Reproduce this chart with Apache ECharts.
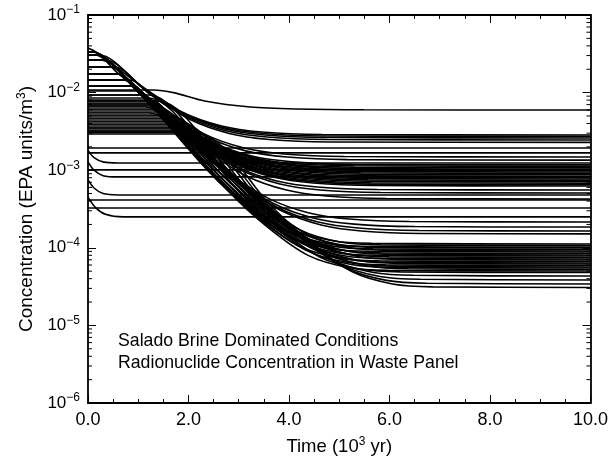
<!DOCTYPE html>
<html>
<head>
<meta charset="utf-8">
<script src="https://cdn.jsdelivr.net/npm/echarts@6/dist/echarts.min.js"></script>
<style>
html, body { margin: 0; padding: 0; background: #fff; }
#chart { width: 611px; height: 469px; }
</style>
</head>
<body>
<div id="chart"></div>
<script>
// time in 10^3 yr, concentration in EPA units/m3

// curves that bend off early and level out in the upper band
var upperCurves = [
    [[0,0.0108],[1.3,0.0108],[1.7,0.0100],[2.32,7.79e-3],[3.23,6.52e-3],[4.14,6.15e-3],[5.5,6.0e-3],[10,5.97e-3]],
    [[0,0.0376],[0.16,0.0333],[1.06,0.0122],[1.86,5.68e-3],[2.66,3.71e-3],[3.46,3.10e-3],[4.66,2.88e-3],[10,2.84e-3]],
    [[0,0.0305],[0.23,0.0305],[1.09,0.0116],[1.88,5.44e-3],[2.69,3.55e-3],[3.49,2.97e-3],[4.68,2.76e-3],[10,2.72e-3]],
    [[0,0.0263],[0.35,0.0263],[1.12,0.0111],[1.92,5.2e-3],[2.72,3.39e-3],[3.52,2.84e-3],[4.72,2.64e-3],[10,2.6e-3]],
    [[0,0.0214],[0.525,0.0214],[1.16,0.0105],[1.96,4.9e-3],[2.76,3.2e-3],[3.56,2.68e-3],[4.76,2.49e-3],[10,2.45e-3]],
    [[0,0.0145],[0.86,0.0145],[1.21,9.76e-3],[2.01,4.56e-3],[2.81,2.98e-3],[3.61,2.49e-3],[4.81,2.31e-3],[10,2.28e-3]],
    [[0,7.79e-3],[1.32,7.79e-3],[1.50,6.33e-3],[2.30,2.96e-3],[3.11,1.93e-3],[3.90,1.62e-3],[5.10,1.50e-3],[10,1.48e-3]],
    [[0,6.92e-3],[1.40,6.92e-3],[1.56,5.78e-3],[2.36,2.7e-3],[3.16,1.76e-3],[3.96,1.48e-3],[5.16,1.37e-3],[10,1.35e-3]],
    [[0,0.0263],[0.31,0.0263],[0.84,0.0137],[1.66,4.99e-3],[2.46,2.33e-3],[3.26,1.52e-3],[4.06,1.28e-3],[5.26,1.18e-3],[10,1.17e-3]],
    [[0,8.03e-3],[1.26,8.03e-3],[1.68,4.79e-3],[2.49,2.24e-3],[3.28,1.46e-3],[4.09,1.22e-3],[5.29,1.14e-3],[10,1.12e-3]],
    [[0,0.0214],[0.47,0.0214],[0.90,0.0126],[1.72,4.6e-3],[2.51,2.15e-3],[3.32,1.40e-3],[4.11,1.17e-3],[5.31,1.09e-3],[10,1.07e-3]],
    [[0,7.35e-3],[1.32,7.35e-3],[1.74,4.41e-3],[2.55,2.06e-3],[3.34,1.34e-3],[4.15,1.13e-3],[5.35,1.05e-3],[10,1.03e-3]],
    [[0,0.0174],[0.63,0.0174],[0.97,0.0116],[1.77,4.23e-3],[2.57,1.98e-3],[3.37,1.29e-3],[4.17,1.08e-3],[5.37,1.0e-3],[10,9.88e-4]],
    [[0,6.72e-3],[1.38,6.72e-3],[1.80,4.06e-3],[2.60,1.90e-3],[3.40,1.24e-3],[4.20,1.04e-3],[5.40,9.62e-4],[10,9.48e-4]],
    [[0,0.0145],[0.78,0.0145],[1.03,0.0107],[1.83,3.89e-3],[2.62,1.82e-3],[3.43,1.19e-3],[4.23,9.95e-4],[5.42,9.24e-4],[10,9.1e-4]],
    [[0,6.15e-3],[1.44,6.15e-3],[1.85,3.74e-3],[2.66,1.75e-3],[3.45,1.14e-3],[4.26,9.54e-4],[5.46,8.86e-4],[10,8.73e-4]],
    [[0,0.0122],[0.92,0.0122],[1.08,9.83e-3],[1.88,3.58e-3],[2.68,1.67e-3],[3.49,1.09e-3],[4.28,9.15e-4],[5.48,8.5e-4],[10,8.37e-4]],
    [[0,5.62e-3],[1.50,5.62e-3],[1.91,3.44e-3],[2.71,1.61e-3],[3.51,1.05e-3],[4.32,8.78e-4],[5.51,8.15e-4],[10,8.03e-4]],
    [[0,0.0122],[0.91,0.0122],[1.14,9.04e-3],[1.94,3.30e-3],[2.74,1.54e-3],[3.54,1.0e-3],[4.34,8.42e-4],[5.54,7.82e-4],[10,7.7e-4]],
    [[0,5.14e-3],[1.57,5.14e-3],[1.96,3.16e-3],[2.77,1.48e-3],[3.56,9.64e-4],[4.37,8.08e-4],[5.57,7.5e-4],[10,7.39e-4]],
    [[0,4.71e-3],[1.63,4.71e-3],[2.00,3.03e-3],[2.79,1.42e-3],[3.60,9.25e-4],[4.39,7.75e-4],[5.59,7.2e-4],[10,7.09e-4]],
    [[0,4.31e-3],[1.69,4.31e-3],[2.02,2.91e-3],[2.83,1.36e-3],[3.62,8.87e-4],[4.43,7.43e-4],[5.63,6.9e-4],[10,6.8e-4]],
    [[0,3.94e-3],[1.76,3.94e-3],[2.05,2.79e-3],[2.85,1.30e-3],[3.65,8.51e-4],[4.45,7.13e-4],[5.65,6.62e-4],[10,6.52e-4]],
    [[0,3.6e-3],[1.83,3.6e-3],[2.08,2.68e-3],[2.88,1.25e-3],[3.68,8.16e-4],[4.48,6.83e-4],[5.68,6.34e-4],[10,6.25e-4]],
    [[0,3.4e-3],[1.86,3.4e-3],[2.16,2.38e-3],[2.96,1.11e-3],[3.76,7.26e-4],[4.56,6.08e-4],[5.76,5.64e-4],[10,5.56e-4]],
    [[0,0.0305],[0.16,0.0305],[0.57,0.0184],[1,0.0107],[1.42,5.96e-3],[2.22,2.17e-3],[3.02,1.02e-3],[3.82,6.63e-4],[4.62,5.55e-4],[5.82,5.16e-4],[10,5.08e-4]],
    [[0,3.2e-3],[1.87,3.2e-3],[2.34,1.82e-3],[3.14,8.5e-4],[3.95,5.55e-4],[4.74,4.65e-4],[5.94,4.31e-4],[10,4.25e-4]],
    [[0,0.0263],[0.27,0.0263],[1,0.0102],[1.20,7.78e-3],[2.00,2.52e-3],[2.80,9.2e-4],[3.60,4.3e-4],[4.40,2.81e-4],[5.20,2.35e-4],[6.40,2.18e-4],[10,2.15e-4]],
    [[0,3.06e-3],[1.85,3.06e-3],[2.10,2.17e-3],[2.90,7.92e-4],[3.70,3.7e-4],[4.50,2.41e-4],[5.30,2.02e-4],[6.50,1.88e-4],[10,1.85e-4]],
    [[0,9.31e-3],[1.06,9.31e-3],[1.38,5.95e-3],[2.18,1.93e-3],[2.98,7.04e-4],[3.78,3.29e-4],[4.58,2.15e-4],[5.38,1.80e-4],[6.58,1.67e-4],[10,1.645e-4]],
    [[0,0.0334],[0.09,0.0334],[1,0.0102],[1.44,5.47e-3],[2.24,1.77e-3],[3.04,6.46e-4],[3.84,3.02e-4],[4.64,1.97e-4],[5.44,1.65e-4],[6.64,1.53e-4],[10,1.51e-4]]
];

// curves that follow the steep decay down to the lower band
var lowerCurves = [
    [[0,0.0334],[0.09,0.0334],[1,0.0102],[2.44,1.22e-3],[3.24,4.07e-4],[4.04,1.78e-4],[4.84,1.24e-4],[5.64,1.14e-4],[10,1.12e-4]],
    [[0,9.31e-3],[1.21,9.31e-3],[2.62,1.17e-3],[3.42,3.89e-4],[4.22,1.70e-4],[5.02,1.19e-4],[5.82,1.09e-4],[10,1.07e-4]],
    [[0,0.0334],[0.09,0.0334],[1,0.0102],[2.35,1.12e-3],[3.15,3.72e-4],[3.95,1.63e-4],[4.75,1.14e-4],[5.55,1.04e-4],[10,1.02e-4]],
    [[0,8.52e-3],[1.20,8.52e-3],[2.60,1.09e-3],[3.40,3.62e-4],[4.20,1.58e-4],[5.00,1.10e-4],[5.80,1.01e-4],[10,9.94e-5]],
    [[0,0.0305],[0.16,0.0305],[1,0.0102],[2.47,1.04e-3],[3.27,3.46e-4],[4.07,1.51e-4],[4.87,1.05e-4],[5.67,9.69e-5],[10,9.5e-5]],
    [[0,7.79e-3],[1.40,7.79e-3],[2.80,9.94e-4],[3.60,3.31e-4],[4.40,1.45e-4],[5.20,1.01e-4],[6.00,9.27e-5],[10,9.09e-5]],
    [[0,0.0263],[0.27,0.0263],[1,0.0102],[2.40,9.66e-4],[3.20,3.21e-4],[4.00,1.40e-4],[4.80,9.80e-5],[5.60,9.01e-5],[10,8.83e-5]],
    [[0,7.13e-3],[1.24,7.13e-3],[2.63,9.23e-4],[3.43,3.07e-4],[4.23,1.34e-4],[5.03,9.37e-5],[5.83,8.61e-5],[10,8.44e-5]],
    [[0,0.0263],[0.27,0.0263],[1,0.0102],[2.81,8.83e-4],[3.61,2.94e-4],[4.41,1.28e-4],[5.21,8.96e-5],[6.01,8.23e-5],[10,8.07e-5]],
    [[0,6.52e-3],[1.15,6.52e-3],[2.53,8.58e-4],[3.33,2.85e-4],[4.13,1.25e-4],[4.93,8.70e-5],[5.73,8.0e-5],[10,7.84e-5]],
    [[0,0.0214],[0.43,0.0214],[1,0.0102],[2.79,8.21e-4],[3.59,2.73e-4],[4.39,1.19e-4],[5.19,8.33e-5],[5.99,7.65e-5],[10,7.5e-5]],
    [[0,5.97e-3],[1.28,5.97e-3],[2.66,7.84e-4],[3.46,2.61e-4],[4.26,1.14e-4],[5.06,7.96e-5],[5.86,7.31e-5],[10,7.17e-5]],
    [[0,0.0174],[0.59,0.0174],[1,0.0102],[2.98,7.61e-4],[3.78,2.53e-4],[4.58,1.11e-4],[5.38,7.73e-5],[6.18,7.10e-5],[10,6.96e-5]],
    [[0,5.46e-3],[1.22,5.46e-3],[2.59,7.29e-4],[3.39,2.42e-4],[4.19,1.06e-4],[4.99,7.39e-5],[5.79,6.79e-5],[10,6.66e-5]],
    [[0,0.0174],[0.59,0.0174],[1,0.0102],[2.82,6.97e-4],[3.62,2.32e-4],[4.42,1.01e-4],[5.22,7.07e-5],[6.02,6.50e-5],[10,6.37e-5]],
    [[0,5.0e-3],[1.63,5.0e-3],[2.99,6.76e-4],[3.79,2.25e-4],[4.59,9.83e-5],[5.39,6.86e-5],[6.19,6.30e-5],[10,6.18e-5]],
    [[0,0.0145],[0.73,0.0145],[1,0.0102],[2.72,6.47e-4],[3.52,2.15e-4],[4.32,9.40e-5],[5.12,6.56e-5],[5.92,6.03e-5],[10,5.91e-5]],
    [[0,4.57e-3],[1.62,4.57e-3],[2.98,6.19e-4],[3.78,2.06e-4],[4.58,9.0e-5],[5.38,6.28e-5],[6.18,5.77e-5],[10,5.66e-5]],
    [[0,0.0122],[0.86,0.0122],[1,0.0102],[2.84,6.01e-4],[3.64,2.0e-4],[4.44,8.73e-5],[5.24,6.09e-5],[6.04,5.60e-5],[10,5.49e-5]],
    [[0,4.18e-3],[1.82,4.18e-3],[3.17,5.74e-4],[3.97,1.91e-4],[4.77,8.35e-5],[5.57,5.83e-5],[6.37,5.36e-5],[10,5.25e-5]],
    [[0,0.0122],[0.86,0.0122],[1,0.0102],[2.78,5.49e-4],[3.58,1.83e-4],[4.38,7.98e-5],[5.18,5.57e-5],[5.98,5.12e-5],[10,5.02e-5]],
    [[0,3.82e-3],[1.66,3.82e-3],[3.01,5.25e-4],[3.81,1.75e-4],[4.61,7.63e-5],[5.41,5.33e-5],[6.21,4.90e-5],[10,4.80e-5]],
    [[0,0.0105],[0.98,0.0105],[1,0.0102],[3.28,4.74e-4],[4.08,1.58e-4],[4.88,6.88e-5],[5.68,4.81e-5],[6.48,4.42e-5],[10,4.33e-5]],
    [[0,3.5e-3],[1.97,3.5e-3],[3.41,4.21e-4],[4.21,1.40e-4],[5.01,6.12e-5],[5.81,4.27e-5],[6.61,3.93e-5],[10,3.85e-5]],
    [[0,3.2e-3],[2.08,3.2e-3],[3.54,3.74e-4],[4.34,1.25e-4],[5.14,5.44e-5],[5.94,3.80e-5],[6.74,3.49e-5],[10,3.42e-5]],
    [[0,2.93e-3],[2.19,2.93e-3],[3.66,3.37e-4],[4.46,1.12e-4],[5.26,4.90e-5],[6.06,3.42e-5],[6.86,3.14e-5],[10,3.08e-5]]
];

// curves that stay near their starting level
var flatCurves = [
    [[0,1.93e-3],[10,1.93e-3]],
    [[0,1.67e-3],[10,1.67e-3]],
    [[0,1.8e-3],[0.12,1.45e-3],[0.3,1.28e-3],[0.6,1.24e-3],[10,1.24e-3]],
    [[0,1.01e-3],[10,1.01e-3]],
    [[0,1.28e-3],[0.12,1.0e-3],[0.3,8.5e-4],[0.6,8.2e-4],[10,8.2e-4]],
    [[0,7.5e-4],[0.12,5.9e-4],[0.3,5.0e-4],[0.6,4.8e-4],[10,4.8e-4]],
    [[0,4.13e-4],[10,4.13e-4]],
    [[0,3.26e-4],[10,3.26e-4]],
    [[0,4.5e-4],[0.15,3.3e-4],[0.35,2.7e-4],[0.7,2.5e-4],[10,2.5e-4]]
];

var logMinorTicks = [
    2e-6,3e-6,4e-6,5e-6,6e-6,7e-6,8e-6,9e-6,
    2e-5,3e-5,4e-5,5e-5,6e-5,7e-5,8e-5,9e-5,
    2e-4,3e-4,4e-4,5e-4,6e-4,7e-4,8e-4,9e-4,
    2e-3,3e-3,4e-3,5e-3,6e-3,7e-3,8e-3,9e-3,
    2e-2,3e-2,4e-2,5e-2,6e-2,7e-2,8e-2,9e-2
];

var noteLines = ['Salado Brine Dominated Conditions', 'Radionuclide Concentration in Waste Panel'];

var FONT = '"Liberation Sans", Arial, Helvetica, sans-serif';

var myChart = echarts.init(document.getElementById('chart'), null, { renderer: 'canvas' });

var series = [];
upperCurves.concat(lowerCurves, flatCurves).forEach(function (c) {
    series.push({
        type: 'line',
        data: c,
        showSymbol: false,
        smooth: 0.3,
        silent: true,
        lineStyle: { color: '#000', width: 1.6 },
        z: 2
    });
});

// log minor ticks on left and right frame
series.push({
    type: 'custom',
    silent: true,
    clip: false,
    z: 5,
    data: logMinorTicks.map(function (v) { return [0, v]; }),
    renderItem: function (params, api) {
        var pL = api.coord([0, api.value(1)]);
        var pR = api.coord([10, api.value(1)]);
        return {
            type: 'group',
            children: [
                { type: 'line', shape: { x1: pL[0], y1: pL[1], x2: pL[0] + 4, y2: pL[1] }, style: { stroke: '#000', lineWidth: 1 } },
                { type: 'line', shape: { x1: pR[0], y1: pR[1], x2: pR[0] - 4, y2: pR[1] }, style: { stroke: '#000', lineWidth: 1 } }
            ]
        };
    }
});

function xAxisCfg(pos, showLabel) {
    return {
        type: 'value',
        position: pos,
        min: 0,
        max: 10,
        interval: 2,
        name: showLabel ? '{a|Time (10}{b|3}{a| yr)}' : '',
        nameLocation: 'middle',
        nameGap: 33,
        nameTextStyle: {
            rich: {
                a: { fontSize: 18.5, fontFamily: FONT, color: '#000' },
                b: { fontSize: 12, fontFamily: FONT, color: '#000', padding: [0, 0, 10, 0] }
            }
        },
        axisLine: { onZero: false, lineStyle: { color: '#000', width: 1.8 } },
        axisTick: { inside: true, length: 8, lineStyle: { color: '#000', width: 1 } },
        minorTick: { show: true, splitNumber: 4, length: 4, lineStyle: { color: '#000', width: 1 } },
        splitLine: { show: false },
        axisLabel: {
            show: showLabel,
            margin: 8,
            color: '#000',
            fontSize: 18,
            fontFamily: FONT,
            formatter: function (v) { return v.toFixed(1); }
        }
    };
}

function yAxisCfg(pos, showLabel) {
    return {
        type: 'log',
        logBase: 10,
        position: pos,
        min: 1e-6,
        max: 1e-1,
        name: showLabel ? '{a|Concentration (EPA units/m}{b|3}{a|)}' : '',
        nameLocation: 'middle',
        nameRotate: 90,
        nameGap: 46,
        nameTextStyle: {
            rich: {
                a: { fontSize: 19, fontFamily: FONT, color: '#000' },
                b: { fontSize: 12, fontFamily: FONT, color: '#000', padding: [0, 0, 10, 0] }
            }
        },
        axisLine: { onZero: false, lineStyle: { color: '#000', width: 1.8 } },
        axisTick: { inside: true, length: 8, lineStyle: { color: '#000', width: 1 } },
        splitLine: { show: false },
        axisLabel: {
            show: showLabel,
            margin: 8,
            formatter: function (v) {
                var e = Math.round(Math.log(v) / Math.LN10);
                return '{a|10}{b|' + (e < 0 ? '\u2212' + (-e) : e) + '}';
            },
            rich: {
                a: { fontSize: 17, fontFamily: FONT, color: '#000' },
                b: { fontSize: 12, fontFamily: FONT, color: '#000', padding: [0, 0, 10, 0] }
            }
        }
    };
}

myChart.setOption({
    backgroundColor: '#fff',
    animation: false,
    grid: { left: 88, right: 19, top: 15, bottom: 66 },
    xAxis: [xAxisCfg('bottom', true), xAxisCfg('top', false)],
    yAxis: [yAxisCfg('left', true), yAxisCfg('right', false)],
    graphic: [{
        type: 'text',
        left: 118,
        top: 330,
        z: 10,
        style: {
            text: noteLines.join('\n'),
            font: '17.7px ' + FONT,
            lineHeight: 22,
            fill: '#000'
        }
    }],
    series: series
});
</script>
</body>
</html>
